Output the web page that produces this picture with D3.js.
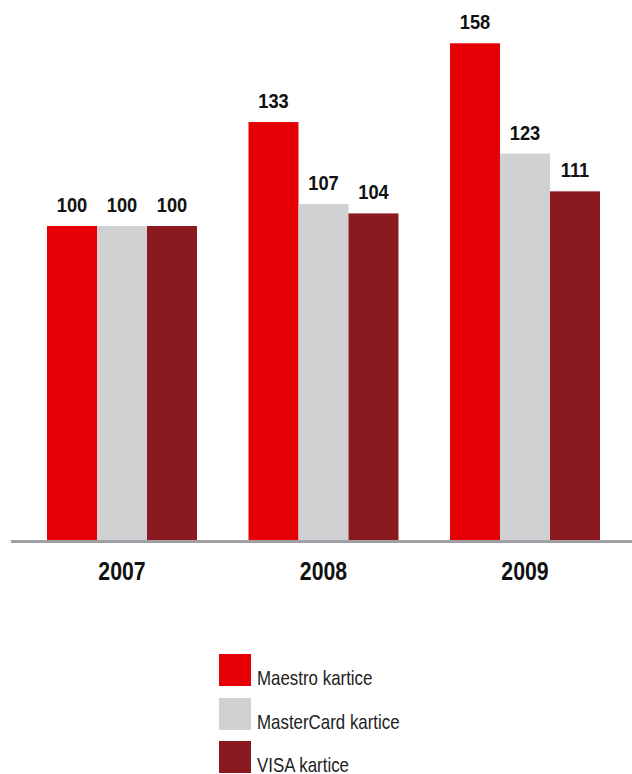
<!DOCTYPE html>
<html><head><meta charset="utf-8">
<script src="https://cdn.jsdelivr.net/npm/d3@7"></script>
<style>
html,body{margin:0;padding:0;background:#fff;}
text{font-family:"Liberation Sans","Arial",sans-serif;}
</style></head>
<body>
<svg id="chart" width="632" height="774"></svg>
<script>
const years = ["2007", "2008", "2009"];
const seriesNames = ["Maestro kartice", "MasterCard kartice", "VISA kartice"];
const maestro = [100, 133, 158];
const mastercard = [100, 107, 123];
const visa = [100, 104, 111];
const colors = ["#e60005", "#d0d1d3", "#8b1a20"];

const seriesValues = [maestro, mastercard, visa];
const svg = d3.select("#chart");

const baseY = 541;
const y = d3.scaleLinear().domain([0, 100]).range([baseY, 226]);
const x0 = d3.scaleBand().domain(years).range([47, 600]).paddingInner(51.5 / 201.5).paddingOuter(0);
const x1 = d3.scaleBand().domain(seriesNames).range([0, x0.bandwidth()]);

const g = svg.append("g");
years.forEach((yr, i) => {
  const gg = g.append("g").attr("transform", `translate(${x0(yr)},0)`);
  seriesNames.forEach((s, j) => {
    const v = seriesValues[j][i];
    gg.append("rect")
      .attr("x", x1(s))
      .attr("width", x1.bandwidth())
      .attr("y", y(v))
      .attr("height", baseY - y(v))
      .attr("fill", colors[j]);
    gg.append("text")
      .attr("transform", `translate(${x1(s) + x1.bandwidth() / 2},${y(v) - 14}) scale(0.87,1)`)
      .attr("text-anchor", "middle")
      .attr("font-size", 21)
      .attr("font-weight", "bold")
      .attr("fill", "#111")
      .text(v);
  });
});

// axis
const xAxis = d3.axisBottom(x0).tickSize(0).tickPadding(0);
const ax = svg.append("g").attr("transform", `translate(0,${baseY})`).call(xAxis);
ax.select(".domain").remove();
ax.append("line").attr("x1", 11).attr("x2", 632).attr("y1", 0.5).attr("y2", 0.5)
  .attr("stroke", "#a0a0a4").attr("stroke-width", 3);
ax.selectAll(".tick text")
  .attr("y", 0).attr("dy", 0)
  .attr("transform", "translate(0,39) scale(0.85,1)")
  .attr("font-size", 25).attr("font-weight", "bold")
  .attr("fill", "#111")
  .style("font-family", '"Liberation Sans",Arial,sans-serif');

// legend
const leg = svg.append("g");
const legY = [654, 698, 741];
seriesNames.forEach((s, j) => {
  leg.append("rect").attr("x", 219).attr("y", legY[j]).attr("width", 32).attr("height", 32).attr("fill", colors[j]);
  leg.append("text").attr("transform", `translate(257,${legY[j] + 31}) scale(0.845,1)`)
    .attr("font-size", 20).attr("fill", "#222").text(s);
});
</script>
</body></html>
